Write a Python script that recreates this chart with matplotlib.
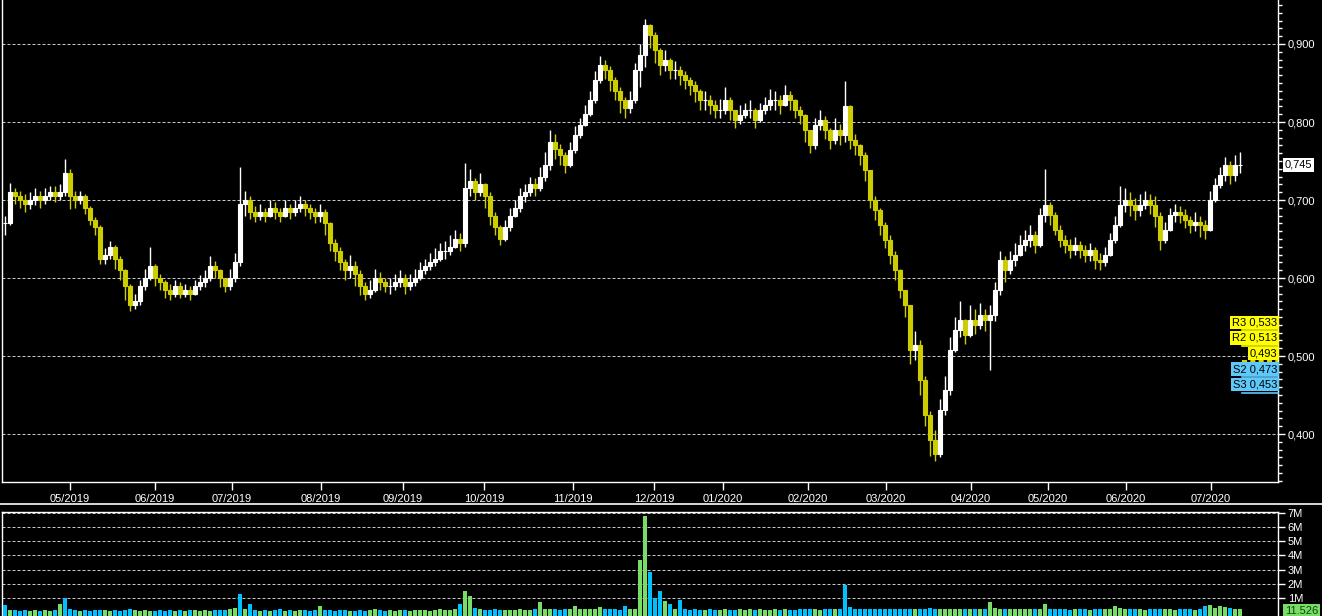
import matplotlib.pyplot as plt
import matplotlib.transforms as mtransforms
from matplotlib.lines import Line2D
from matplotlib.ticker import MultipleLocator, FuncFormatter
import numpy as np

plt.rcParams['font.family'] = ['Liberation Sans', 'DejaVu Sans']

# cierres aproximados (una barra cada ~5 px del grafico original)
closes = [
    0.67, 0.71, 0.705, 0.70, 0.695, 0.70, 0.705, 0.70, 0.705, 0.71,
    0.705, 0.71, 0.735, 0.705, 0.70, 0.705, 0.69, 0.675, 0.665, 0.625,
    0.63, 0.64, 0.625, 0.61, 0.59, 0.565, 0.57, 0.59, 0.60, 0.615,
    0.60, 0.595, 0.585, 0.58, 0.59, 0.58, 0.585, 0.58, 0.59, 0.595,
    0.60, 0.615, 0.61, 0.60, 0.59, 0.60, 0.62, 0.695, 0.70, 0.685,
    0.68, 0.685, 0.68, 0.69, 0.685, 0.68, 0.69, 0.685, 0.69, 0.695,
    0.69, 0.685, 0.68, 0.685, 0.67, 0.645, 0.635, 0.62, 0.61, 0.615,
    0.605, 0.59, 0.58, 0.585, 0.60, 0.595, 0.59, 0.59, 0.595, 0.60,
    0.59, 0.595, 0.60, 0.61, 0.615, 0.62, 0.625, 0.635, 0.635, 0.64,
    0.65, 0.645, 0.715, 0.725, 0.71, 0.72, 0.705, 0.68, 0.665, 0.65,
    0.665, 0.68, 0.69, 0.705, 0.71, 0.72, 0.715, 0.73, 0.745, 0.775,
    0.765, 0.758, 0.745, 0.764, 0.783, 0.796, 0.81, 0.828, 0.854, 0.873,
    0.867, 0.854, 0.84, 0.828, 0.818, 0.828, 0.867, 0.886, 0.924, 0.912,
    0.892, 0.873, 0.88, 0.867, 0.867, 0.86, 0.854, 0.847, 0.84, 0.828,
    0.828, 0.822, 0.815, 0.815, 0.828, 0.815, 0.803, 0.809, 0.815, 0.815,
    0.803, 0.815, 0.822, 0.828, 0.828, 0.822, 0.835, 0.828, 0.815, 0.809,
    0.79, 0.77, 0.796, 0.803, 0.79, 0.777, 0.79, 0.783, 0.82, 0.777,
    0.77, 0.758, 0.738, 0.70, 0.687, 0.668, 0.649, 0.63, 0.61, 0.585,
    0.565, 0.508, 0.514, 0.469, 0.424, 0.392, 0.375, 0.431, 0.456, 0.508,
    0.533, 0.546, 0.527, 0.546, 0.54, 0.553, 0.546, 0.553, 0.585, 0.623,
    0.61, 0.623, 0.63, 0.642, 0.649, 0.655, 0.642, 0.681, 0.694, 0.681,
    0.662, 0.649, 0.642, 0.636, 0.642, 0.636, 0.63, 0.636, 0.623, 0.62,
    0.63, 0.649, 0.668, 0.694, 0.70, 0.694, 0.687, 0.694, 0.70, 0.694,
    0.68, 0.649, 0.662, 0.681, 0.685, 0.681, 0.674, 0.668, 0.672, 0.668,
    0.662, 0.70, 0.719, 0.732, 0.745, 0.732, 0.745, 0.745,
]

highs = [
    0.68, 0.722, 0.715, 0.712, 0.708, 0.71, 0.715, 0.712, 0.715, 0.718,
    0.718, 0.72, 0.752, 0.74, 0.712, 0.712, 0.708, 0.692, 0.678, 0.668,
    0.638, 0.648, 0.642, 0.628, 0.612, 0.592, 0.58, 0.598, 0.612, 0.64,
    0.618, 0.605, 0.598, 0.592, 0.598, 0.595, 0.592, 0.59, 0.598, 0.604,
    0.61, 0.628, 0.622, 0.612, 0.60, 0.612, 0.632, 0.742, 0.712, 0.705,
    0.692, 0.695, 0.69, 0.70, 0.697, 0.69, 0.70, 0.695, 0.70, 0.705,
    0.70, 0.695, 0.69, 0.695, 0.688, 0.672, 0.65, 0.64, 0.625, 0.63,
    0.622, 0.61, 0.595, 0.598, 0.612, 0.608, 0.60, 0.60, 0.605, 0.61,
    0.605, 0.605, 0.612, 0.62, 0.625, 0.632, 0.638, 0.645, 0.648, 0.655,
    0.662, 0.658, 0.748, 0.74, 0.728, 0.735, 0.722, 0.71, 0.685, 0.668,
    0.675, 0.69, 0.70, 0.715, 0.72, 0.73, 0.728, 0.742, 0.762, 0.79,
    0.785, 0.772, 0.762, 0.775, 0.795, 0.805, 0.822, 0.84, 0.865, 0.885,
    0.88, 0.872, 0.858, 0.845, 0.832, 0.84, 0.875, 0.90, 0.932, 0.925,
    0.915, 0.895, 0.892, 0.882, 0.878, 0.872, 0.865, 0.858, 0.852, 0.842,
    0.84, 0.835, 0.828, 0.83, 0.845, 0.832, 0.815, 0.822, 0.825, 0.828,
    0.818, 0.825, 0.832, 0.842, 0.84, 0.835, 0.848, 0.84, 0.83, 0.82,
    0.81, 0.79, 0.805, 0.815, 0.808, 0.792, 0.805, 0.798, 0.852, 0.822,
    0.785, 0.772, 0.762, 0.735, 0.705, 0.69, 0.672, 0.655, 0.635, 0.612,
    0.585, 0.53, 0.532, 0.52, 0.475, 0.43, 0.405, 0.445, 0.475, 0.525,
    0.55, 0.57, 0.548, 0.565, 0.56, 0.568, 0.56, 0.565, 0.595, 0.635,
    0.628, 0.635, 0.645, 0.655, 0.662, 0.668, 0.66, 0.69, 0.74, 0.698,
    0.685, 0.668, 0.655, 0.65, 0.652, 0.648, 0.642, 0.645, 0.64, 0.632,
    0.64, 0.658, 0.68, 0.718, 0.715, 0.71, 0.702, 0.708, 0.712, 0.708,
    0.705, 0.685, 0.672, 0.69, 0.695, 0.692, 0.688, 0.68, 0.685, 0.68,
    0.675, 0.712, 0.728, 0.742, 0.755, 0.75, 0.758, 0.762,
]

lows = [
    0.655, 0.668, 0.695, 0.69, 0.685, 0.688, 0.693, 0.69, 0.695, 0.70,
    0.698, 0.70, 0.705, 0.688, 0.69, 0.695, 0.682, 0.668, 0.655, 0.618,
    0.618, 0.625, 0.612, 0.598, 0.572, 0.558, 0.56, 0.565, 0.585, 0.598,
    0.59, 0.585, 0.575, 0.572, 0.576, 0.574, 0.576, 0.572, 0.578, 0.585,
    0.588, 0.596, 0.60, 0.588, 0.582, 0.585, 0.595, 0.615, 0.68, 0.676,
    0.672, 0.675, 0.672, 0.678, 0.676, 0.672, 0.678, 0.676, 0.68, 0.685,
    0.68, 0.676, 0.67, 0.672, 0.655, 0.635, 0.622, 0.61, 0.598, 0.60,
    0.59, 0.578, 0.572, 0.575, 0.582, 0.585, 0.582, 0.58, 0.585, 0.588,
    0.58, 0.585, 0.59, 0.598, 0.605, 0.61, 0.615, 0.622, 0.625, 0.63,
    0.638, 0.635, 0.64, 0.705, 0.70, 0.705, 0.69, 0.668, 0.655, 0.642,
    0.648, 0.66, 0.678, 0.685, 0.698, 0.705, 0.705, 0.712, 0.725, 0.738,
    0.752, 0.745, 0.735, 0.742, 0.76, 0.78, 0.795, 0.808, 0.825, 0.85,
    0.855, 0.84, 0.828, 0.812, 0.805, 0.812, 0.824, 0.845, 0.87, 0.895,
    0.875, 0.86, 0.865, 0.855, 0.855, 0.848, 0.842, 0.835, 0.826, 0.815,
    0.815, 0.81, 0.805, 0.805, 0.81, 0.802, 0.792, 0.798, 0.805, 0.805,
    0.792, 0.80, 0.81, 0.815, 0.816, 0.81, 0.82, 0.815, 0.805, 0.798,
    0.775, 0.76, 0.765, 0.79, 0.778, 0.765, 0.772, 0.77, 0.775, 0.765,
    0.758, 0.745, 0.725, 0.69, 0.675, 0.655, 0.638, 0.618, 0.598, 0.575,
    0.55, 0.49, 0.495, 0.45, 0.41, 0.372, 0.365, 0.37, 0.425, 0.45,
    0.505, 0.525, 0.515, 0.525, 0.528, 0.535, 0.532, 0.482, 0.545, 0.578,
    0.595, 0.605, 0.615, 0.628, 0.635, 0.64, 0.632, 0.64, 0.672, 0.668,
    0.655, 0.64, 0.632, 0.626, 0.63, 0.626, 0.62, 0.622, 0.612, 0.61,
    0.615, 0.628, 0.645, 0.665, 0.685, 0.68, 0.675, 0.68, 0.688, 0.682,
    0.665, 0.636, 0.645, 0.66, 0.672, 0.67, 0.664, 0.658, 0.66, 0.652,
    0.65, 0.66, 0.698, 0.715, 0.725, 0.72, 0.725, 0.735,
]

# volumen en millones
volume_m = [
    0.5, 0.15, 0.12, 0.08, 0.12, 0.08, 0.12, 0.08, 0.12, 0.1,
    0.12, 0.6, 1.0, 0.18, 0.12, 0.08, 0.12, 0.08, 0.12, 0.15,
    0.12, 0.08, 0.12, 0.08, 0.12, 0.18, 0.12, 0.08, 0.12, 0.1,
    0.08, 0.12, 0.08, 0.12, 0.08, 0.12, 0.08, 0.12, 0.15, 0.08,
    0.12, 0.08, 0.12, 0.15, 0.12, 0.18, 0.3, 1.27, 0.2, 0.56,
    0.12, 0.08, 0.12, 0.08, 0.12, 0.18, 0.08, 0.12, 0.08, 0.12,
    0.12, 0.08, 0.12, 0.42, 0.15, 0.12, 0.08, 0.12, 0.15, 0.1,
    0.08, 0.12, 0.08, 0.12, 0.18, 0.12, 0.08, 0.12, 0.08, 0.12,
    0.12, 0.08, 0.12, 0.15, 0.12, 0.08, 0.12, 0.18, 0.12, 0.15,
    0.2, 0.6, 1.5, 1.1, 0.3, 0.18, 0.15, 0.12, 0.18, 0.12,
    0.12, 0.15, 0.12, 0.18, 0.15, 0.12, 0.18, 0.7, 0.25, 0.2,
    0.18, 0.15, 0.18, 0.25, 0.4, 0.18, 0.2, 0.18, 0.25, 0.35,
    0.18, 0.2, 0.18, 0.15, 0.45, 0.18, 0.2, 3.7, 6.76, 2.8,
    1.0, 1.5, 0.8, 0.6, 0.2, 0.85, 0.2, 0.15, 0.18, 0.15,
    0.12, 0.18, 0.15, 0.12, 0.18, 0.15, 0.12, 0.18, 0.15, 0.18,
    0.15, 0.18, 0.12, 0.15, 0.18, 0.15, 0.18, 0.12, 0.15, 0.18,
    0.18, 0.25, 0.18, 0.15, 0.18, 0.2, 0.18, 0.25, 1.9, 0.35,
    0.2, 0.18, 0.25, 0.2, 0.18, 0.25, 0.2, 0.18, 0.25, 0.2,
    0.25, 0.18, 0.2, 0.25, 0.18, 0.3, 0.25, 0.2, 0.18, 0.25,
    0.2, 0.18, 0.25, 0.18, 0.2, 0.18, 0.25, 0.7, 0.3, 0.2,
    0.18, 0.2, 0.18, 0.25, 0.18, 0.2, 0.18, 0.25, 0.6, 0.2,
    0.18, 0.2, 0.18, 0.15, 0.18, 0.2, 0.18, 0.15, 0.18, 0.2,
    0.18, 0.2, 0.45, 0.3, 0.2, 0.18, 0.2, 0.18, 0.15, 0.18,
    0.2, 0.18, 0.2, 0.18, 0.15, 0.18, 0.2, 0.18, 0.15, 0.18,
    0.4, 0.5, 0.3, 0.45, 0.35, 0.3, 0.2, 0.18,
]
vol_cyan_idx = [0, 12, 47, 168]

month_pos = [13.0, 30.0, 45.4, 63.2, 79.6, 95.8, 113.6, 129.8, 143.6, 160.6,
             176.2, 193.2, 208.6, 224.2, 241.2]
month_labels = ['05/2019', '06/2019', '07/2019', '08/2019', '09/2019', '10/2019',
                '11/2019', '12/2019', '01/2020', '02/2020', '03/2020', '04/2020',
                '05/2020', '06/2020', '07/2020']

level_names = ['R3', 'R2', '', 'S2', 'S3']
level_vals = [0.533, 0.513, 0.493, 0.473, 0.453]
last_price = 0.745
last_volume = '11.526'

W, H = 1322, 616
WHITE = '#ffffff'
YELLOW = '#cccc00'
GRID = '#c8c8c8'

fig = plt.figure(figsize=(W / 100, H / 100), dpi=100, facecolor='black')
ax = fig.add_axes([2 / W, (H - 482) / H, 1276 / W, 482 / H])
vax = fig.add_axes([2 / W, 0, 1276 / W, 104 / H])

c = np.array(closes)
o = np.r_[c[0], c[:-1]]
hi = np.maximum(np.array(highs), np.maximum(o, c))
lo = np.minimum(np.array(lows), np.minimum(o, c))
x = np.arange(len(c))
up = c >= o
cols = [WHITE if u else YELLOW for u in up]

# * velas
ax.set_facecolor('black')
ax.vlines(x, lo, hi, colors=cols, linewidth=1.0, zorder=3)
ax.bar(x, c - o, bottom=o, width=0.7, color=cols, edgecolor=cols, linewidth=0.8, zorder=3)

ax.set_xlim(-0.6, 254.6)
ax.set_ylim(0.3385, 0.9564)
ax.yaxis.tick_right()
ax.yaxis.set_major_locator(MultipleLocator(0.1))
ax.yaxis.set_minor_locator(MultipleLocator(0.01))
ax.yaxis.set_major_formatter(FuncFormatter(lambda v, p: f'{v:.3f}'.replace('.', ',')))
ax.tick_params(axis='y', which='major', colors=WHITE, length=5, width=1, pad=2, labelsize=8)
ax.tick_params(axis='y', which='minor', colors=WHITE, length=3, width=1)
ax.set_xticks(month_pos)
ax.set_xticklabels(month_labels)
ax.tick_params(axis='x', colors=WHITE, length=6, width=1, pad=2.5, labelsize=8)
ax.grid(axis='y', which='major', color=GRID, linestyle=(0, (3, 2)), linewidth=0.72)
for s in ['left', 'right', 'bottom']:
    ax.spines[s].set_color(WHITE)
    ax.spines[s].set_linewidth(1)
ax.spines['top'].set_visible(False)

# niveles de soporte / resistencia
ytr = ax.get_yaxis_transform()
lab_tr = mtransforms.offset_copy(ytr, fig=fig, x=-1, y=3, units='dots')
for name, val in zip(level_names, level_vals):
    col = '#5ec8f8' if name.startswith('S') else '#ffff00'
    ls = (0, (3, 2)) if name == '' else '-'
    ax.plot([0.972, 1.0], [val, val], transform=ytr, color=col, linewidth=1.2, linestyle=ls,
            clip_on=False, zorder=4)
    txt = f'{name} {val:.3f}'.replace('.', ',').strip()
    ax.text(1.0, val, txt, transform=lab_tr, ha='right', va='bottom', fontsize=8,
            color='black', zorder=5,
            bbox=dict(facecolor=col, edgecolor='none', boxstyle='square,pad=0.15'))

ax.text(1.0055, last_price, f'{last_price:.3f}'.replace('.', ','), transform=ytr,
        ha='left', va='center', fontsize=8, color='black',
        bbox=dict(facecolor=WHITE, edgecolor='none', boxstyle='square,pad=0.15'))

# * volumen
vax.set_facecolor('black')
vfloor = -0.28
vcols = ['#77dd66' if u else '#00c0ff' for u in up]
for i in vol_cyan_idx:
    vcols[i] = '#00c0ff'
vax.bar(x, np.array(volume_m) - vfloor, bottom=vfloor, width=0.8, color=vcols, zorder=3)
vax.set_xlim(-0.6, 254.6)
vax.set_ylim(vfloor, 7.07)
vax.set_xticks([])
vax.yaxis.tick_right()
vax.set_yticks(range(1, 8))
vax.set_yticklabels([f'{v}M' for v in range(1, 8)])
vax.tick_params(axis='y', colors=WHITE, length=5, width=1, pad=2, labelsize=8)
vax.grid(axis='y', color=GRID, linestyle=(0, (3, 2)), linewidth=0.72)
for s in ['left', 'right', 'top']:
    vax.spines[s].set_color(WHITE)
    vax.spines[s].set_linewidth(1)
vax.spines['bottom'].set_visible(False)
vax.text(1.0055, 0.1, last_volume, transform=vax.get_yaxis_transform(), ha='left',
         va='center', fontsize=8, color='#114411',
         bbox=dict(facecolor='#77dd66', edgecolor='none', boxstyle='square,pad=0.15'))

# linea separadora
fig.add_artist(Line2D([0, 1], [(H - 504) / H] * 2, transform=fig.transFigure,
                      color='#d8d8d8', linewidth=1.4))

fig.savefig('out.png', dpi=100, facecolor='black')
